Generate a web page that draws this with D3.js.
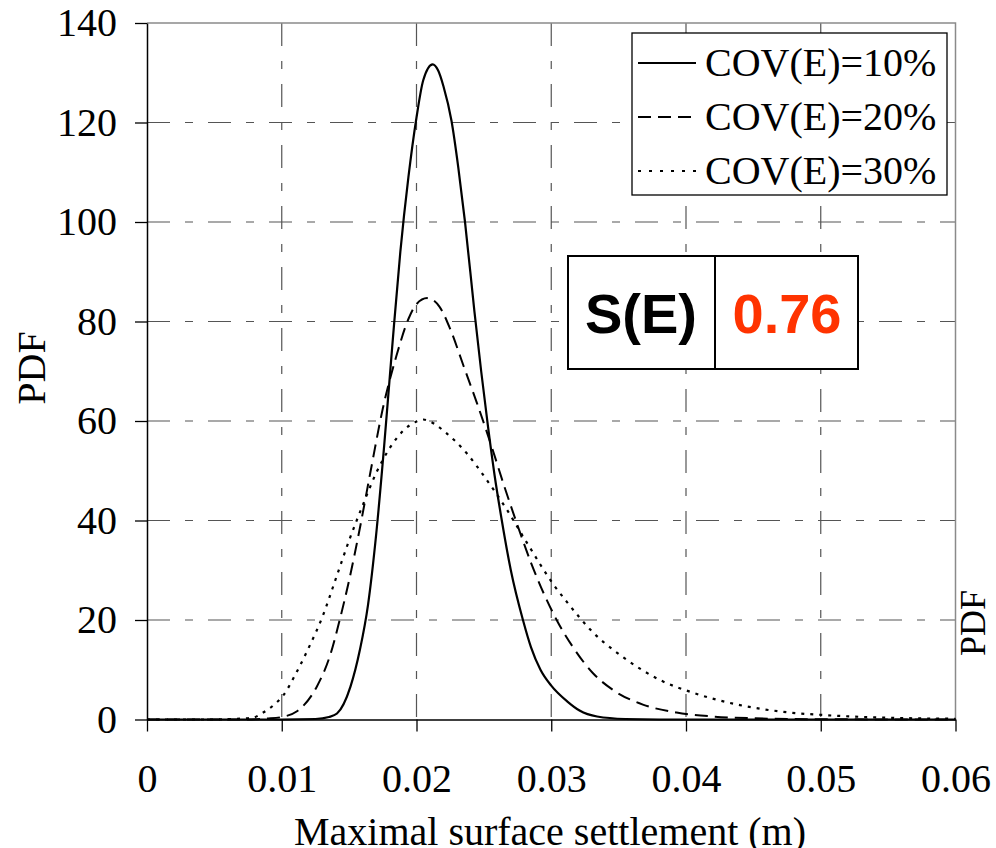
<!DOCTYPE html>
<html>
<head>
<meta charset="utf-8">
<script src="https://cdn.jsdelivr.net/npm/d3@7"></script>
<style>
  body { margin: 0; background: #fff; }
  svg { display: block; }
</style>
</head>
<body>
<div id="chart"></div>
<script>
// tick values / labels
var xTicks = [0, 0.01, 0.02, 0.03, 0.04, 0.05, 0.06];
var xTickLabels = ["0", "0.01", "0.02", "0.03", "0.04", "0.05", "0.06"];
var yTicks = [0, 20, 40, 60, 80, 100, 120, 140];

// COV(E)=10%
var settle10 = [0, 0.010, 0.0125, 0.0135, 0.0141, 0.0151, 0.0158, 0.0164, 0.0170, 0.0176, 0.0182, 0.0188, 0.0194, 0.0200, 0.0205, 0.0212, 0.0216, 0.0220, 0.0226, 0.0231, 0.0236, 0.0243, 0.0248, 0.0253, 0.0258, 0.0263, 0.0270, 0.0279, 0.0285, 0.0292, 0.0300, 0.0312, 0.0321, 0.0334, 0.0355, 0.0380, 0.0600];
var pdf10    = [0, 0, 0.1, 0.5, 1.2, 6.6, 14, 23, 37, 55, 75, 94, 109, 121, 128.5, 131.7, 130.5, 127.3, 120.3, 111, 100, 82, 70, 59, 49, 40.5, 30, 20, 14.5, 10, 6.8, 3.6, 1.8, 0.6, 0.1, 0, 0];

// COV(E)=20%
var settle20 = [0, 0.0070, 0.0090, 0.0100, 0.0111, 0.0126, 0.0136, 0.0143, 0.0150, 0.0158, 0.0166, 0.0175, 0.0185, 0.0194, 0.0200, 0.0208, 0.0217, 0.0225, 0.0235, 0.0245, 0.0255, 0.0265, 0.0275, 0.0285, 0.0295, 0.0305, 0.0316, 0.0331, 0.0346, 0.0368, 0.0393, 0.0420, 0.0450, 0.0500, 0.0600];
var pdf20    = [0, 0, 0.2, 0.5, 1.6, 6.6, 13, 20, 28, 38.5, 50, 62.5, 73, 80.5, 83.5, 84.7, 83, 78.5, 71, 63.5, 55.5, 47, 39, 31.5, 25, 19.5, 14.6, 9.3, 5.9, 3.0, 1.4, 0.6, 0.25, 0.05, 0];

// COV(E)=30%
var settle30 = [0, 0.0050, 0.0062, 0.0079, 0.0085, 0.0094, 0.0101, 0.0111, 0.0121, 0.0130, 0.0141, 0.0150, 0.0160, 0.0170, 0.0180, 0.0190, 0.0200, 0.0205, 0.0210, 0.0222, 0.0237, 0.0252, 0.0267, 0.0282, 0.0302, 0.0312, 0.0321, 0.0331, 0.0346, 0.0356, 0.0381, 0.0405, 0.0440, 0.0477, 0.0502, 0.0539, 0.0600];
var pdf30    = [0, 0, 0.1, 0.4, 1.2, 2.9, 4.8, 9.5, 15, 20.5, 29, 36, 43, 49.5, 54.5, 58, 59.9, 60.3, 59.9, 57.6, 53.6, 48.2, 42.2, 35.5, 27, 23.5, 20.5, 17.5, 14, 12, 7.9, 5.4, 2.9, 1.4, 0.9, 0.44, 0.15];

var seriesNames = ["COV(E)=10%", "COV(E)=20%", "COV(E)=30%"];
var sensLabel = "S(E)";
var sensValue = "0.76";

var width = 996, height = 848;
var serif = "'Liberation Serif', 'Times New Roman', Times, serif";
var sans = "'Liberation Sans', Arial, Helvetica, sans-serif";

var svg = d3.select("#chart")
  .append("svg")
    .attr("width", width)
    .attr("height", height);

var x = d3.scaleLinear().domain([0, 0.06]).range([147, 955.5]);
var y = d3.scaleLinear().domain([0, 140]).range([719.5, 23]);

// grid (dash-dot)
var gridDash = "23,15,8,15";
svg.append("g").selectAll("line")
  .data(yTicks.filter(function (d) { return d > 0 && d < 140; }))
  .enter().append("line")
    .attr("x1", x(0)).attr("x2", x(0.06))
    .attr("y1", function (d) { return y(d); })
    .attr("y2", function (d) { return y(d); })
    .attr("stroke", "#555")
    .attr("stroke-width", 1.2)
    .attr("stroke-dasharray", gridDash);

svg.append("g").selectAll("line")
  .data(xTicks.filter(function (d) { return d > 0 && d < 0.06; }))
  .enter().append("line")
    .attr("y1", y(140)).attr("y2", y(0))
    .attr("x1", function (d) { return x(d); })
    .attr("x2", function (d) { return x(d); })
    .attr("stroke", "#555")
    .attr("stroke-width", 1.2)
    .attr("stroke-dasharray", gridDash);

// top and right border (grey)
svg.append("path")
  .attr("d", "M" + x(0) + "," + y(140) + "H" + x(0.06) + "V" + y(0))
  .attr("fill", "none")
  .attr("stroke", "#8a8a8a")
  .attr("stroke-width", 1.5);

// axes
var xAxis = svg.append("g")
  .attr("transform", "translate(0," + y(0) + ")")
  .call(d3.axisBottom(x)
    .tickValues(xTicks)
    .tickFormat(function (d, i) { return xTickLabels[i]; })
    .tickSize(12)
    .tickSizeOuter(0)
    .tickPadding(32));

var yAxis = svg.append("g")
  .attr("transform", "translate(" + x(0) + ",0)")
  .call(d3.axisLeft(y)
    .tickValues(yTicks)
    .tickSize(12)
    .tickSizeOuter(0)
    .tickPadding(18));

[xAxis, yAxis].forEach(function (g) {
  g.select(".domain").attr("stroke", "#000").attr("stroke-width", 1.5);
  g.selectAll(".tick line").attr("stroke", "#000").attr("stroke-width", 1.3);
  g.selectAll(".tick text")
    .attr("fill", "#000")
    .style("font-family", serif)
    .style("font-size", "40px");
});

// curves
var styles = [
  {dash: null, w: 2.2},
  {dash: "13,7", w: 2},
  {dash: "3,6", w: 2.2}
];
var series = [
  d3.zip(settle10, pdf10),
  d3.zip(settle20, pdf20),
  d3.zip(settle30, pdf30)
];

var line = d3.line()
  .x(function (d) { return x(d[0]); })
  .y(function (d) { return y(d[1]); })
  .curve(d3.curveMonotoneX);

series.forEach(function (s, i) {
  svg.append("path")
    .datum(s)
    .attr("d", line)
    .attr("fill", "none")
    .attr("stroke", "#000")
    .attr("stroke-width", styles[i].w)
    .attr("stroke-dasharray", styles[i].dash);
});

// legend
var legend = svg.append("g");
legend.append("rect")
  .attr("x", 632).attr("y", 33)
  .attr("width", 315).attr("height", 162)
  .attr("fill", "#fff")
  .attr("stroke", "#000")
  .attr("stroke-width", 1.3);

seriesNames.forEach(function (name, i) {
  var cy = 63 + i * 54;
  legend.append("line")
    .attr("x1", 638).attr("x2", 696)
    .attr("y1", cy).attr("y2", cy)
    .attr("stroke", "#000")
    .attr("stroke-width", styles[i].w)
    .attr("stroke-dasharray", i === 2 ? "3,8" : styles[i].dash);
  legend.append("text")
    .attr("x", 705).attr("y", cy + 13)
    .style("font-family", serif)
    .style("font-size", "40px")
    .text(name);
});

// S(E) box
var box = svg.append("g");
box.append("rect")
  .attr("x", 568).attr("y", 256)
  .attr("width", 290).attr("height", 113)
  .attr("fill", "#fff")
  .attr("stroke", "#000")
  .attr("stroke-width", 2);
box.append("line")
  .attr("x1", 715).attr("x2", 715)
  .attr("y1", 256).attr("y2", 369)
  .attr("stroke", "#000")
  .attr("stroke-width", 2);
box.append("text")
  .attr("x", 641).attr("y", 333)
  .attr("text-anchor", "middle")
  .style("font-family", sans)
  .style("font-weight", "bold")
  .style("font-size", "56px")
  .text(sensLabel);
box.append("text")
  .attr("x", 787).attr("y", 333)
  .attr("text-anchor", "middle")
  .attr("fill", "#ff3300")
  .style("font-family", sans)
  .style("font-weight", "bold")
  .style("font-size", "56px")
  .text(sensValue);

// axis titles (bottom one is cut by the frame, as in the original)
svg.append("text")
  .attr("x", 550).attr("y", 845)
  .attr("text-anchor", "middle")
  .style("font-family", serif)
  .style("font-size", "40px")
  .text("Maximal surface settlement (m)");

svg.append("text")
  .attr("transform", "translate(45,368) rotate(-90)")
  .attr("text-anchor", "middle")
  .style("font-family", serif)
  .style("font-size", "40px")
  .text("PDF");

svg.append("text")
  .attr("transform", "translate(985,623) rotate(-90)")
  .attr("text-anchor", "middle")
  .style("font-family", serif)
  .style("font-size", "36px")
  .text("PDF");
</script>
</body>
</html>
